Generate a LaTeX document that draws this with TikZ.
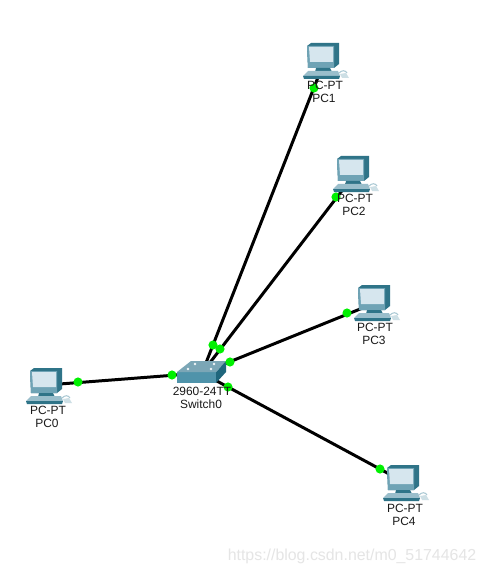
\documentclass[tikz,border=0pt]{standalone}
\usepackage{fontspec}
\setmainfont{Liberation Sans}
\usetikzlibrary{positioning}
\definecolor{pcdark}{HTML}{2F7488}
\definecolor{pcmid}{HTML}{6FA3B5}
\definecolor{pcscreen}{HTML}{D6E6EE}
\definecolor{swtop}{HTML}{7BA6B6}
\definecolor{swfront}{HTML}{4F93AA}
\definecolor{swside}{HTML}{1F667C}
\definecolor{linkdot}{HTML}{00F000}
\begin{document}
\begin{tikzpicture}[
  x=0.02cm, y=-0.02cm,
  link/.style={line width=1.7pt, black},
  linkdot/.style={circle, fill=linkdot, minimum size=5.2pt, inner sep=0pt},
  devlabel/.style={font={\fontsize{6.8pt}{8pt}\selectfont}, text=black!90, inner sep=0pt},
  swled/.style={circle, fill=white!90!swtop, minimum size=1.5pt, inner sep=0pt},
  pcicon/.pic={
    \fill[pcdark] (5,4) -- (9,1) -- (37,1) -- (37,22) -- (32,26) -- (6,26) -- cycle;
    \fill[pcmid] (5,4) -- (32,4) -- (32,26) -- (6,26) -- cycle;
    \fill[pcscreen] (7,5) -- (31,5) -- (31,20) -- (8,20) -- cycle;
    \fill[pcdark] (14,26) -- (28,26) -- (30,30) -- (13,30) -- cycle;
    \draw[pcmid!60!white, line width=0.6pt] (37,31) .. controls (40,28) and (43,28) .. (45,31);
    \fill[pcmid!35!white] (38,32) -- (44,31) -- (47,36) -- (40,36) -- cycle;
    \fill[pcmid!70!white] (6,29) -- (36,29) -- (38,34) -- (1,34) -- cycle;
    \fill[pcdark] (1,34) -- (38,34) -- (37,37) -- (2,37) -- cycle;
  }
]
\useasboundingbox (0,0) rectangle (485,574);
\fill[white] (0,0) rectangle (485,574);
\coordinate (sw) at (202,373);
\coordinate (pc0) at (47,385);
\coordinate (pc1) at (324,62);
\coordinate (pc2) at (354,175);
\coordinate (pc3) at (375,303);
\coordinate (pc4) at (404,482);
\draw[link] (sw) -- (pc0);
\draw[link] (sw) -- (pc1);
\draw[link] (sw) -- (pc2);
\draw[link] (sw) -- (pc3);
\draw[link] (sw) -- (pc4);
\pic at (25,367) {pcicon};
\pic at (302,42) {pcicon};
\pic at (332,155) {pcicon};
\pic at (353,284) {pcicon};
\pic at (382,464) {pcicon};
\fill[swside] (216,372) -- (226,361) -- (226,372) -- (216,383) -- cycle;
\fill[swfront] (177,372) -- (216,372) -- (216,383) -- (177,383) -- cycle;
\fill[swtop] (191,361) -- (226,361) -- (216,372) -- (177,372) -- cycle;
\node[swled] (l0) at (195,364) {};
\node[swled] (l1) at (214,364) {};
\node[swled] (l2) at (188,369) {};
\node[swled] (l3) at (211,369) {};
\node[linkdot] (d0a) at (78,382) {};
\node[linkdot] (d0b) at (172,375) {};
\node[linkdot] (d1a) at (314,88) {};
\node[linkdot] (d1b) at (213,345) {};
\node[linkdot] (d2a) at (336,197) {};
\node[linkdot] (d2b) at (220,349) {};
\node[linkdot] (d3a) at (347,313) {};
\node[linkdot] (d3b) at (230,362) {};
\node[linkdot] (d4a) at (380,469) {};
\node[linkdot] (d4b) at (228,387) {};
\node[devlabel] (t0) at (48,410) {PC-PT};
\node[devlabel] (n0) at (47,423) {PC0};
\node[devlabel] (t1) at (325,85) {PC-PT};
\node[devlabel] (n1) at (324,98) {PC1};
\node[devlabel] (t2) at (355,198) {PC-PT};
\node[devlabel] (n2) at (354,211) {PC2};
\node[devlabel] (t3) at (375,327) {PC-PT};
\node[devlabel] (n3) at (374,340) {PC3};
\node[devlabel] (t4) at (405,508) {PC-PT};
\node[devlabel] (n4) at (404,521) {PC4};
\node[devlabel] (tsw) at (202,391) {2960-24TT};
\node[devlabel] (nsw) at (201,404) {Switch0};
\node[font={\fontsize{9.05pt}{11pt}\selectfont}, text=black!10, inner sep=0pt] (mark) at (352,556) {https://blog.csdn.net/m0\_51744642};
\end{tikzpicture}
\end{document}
